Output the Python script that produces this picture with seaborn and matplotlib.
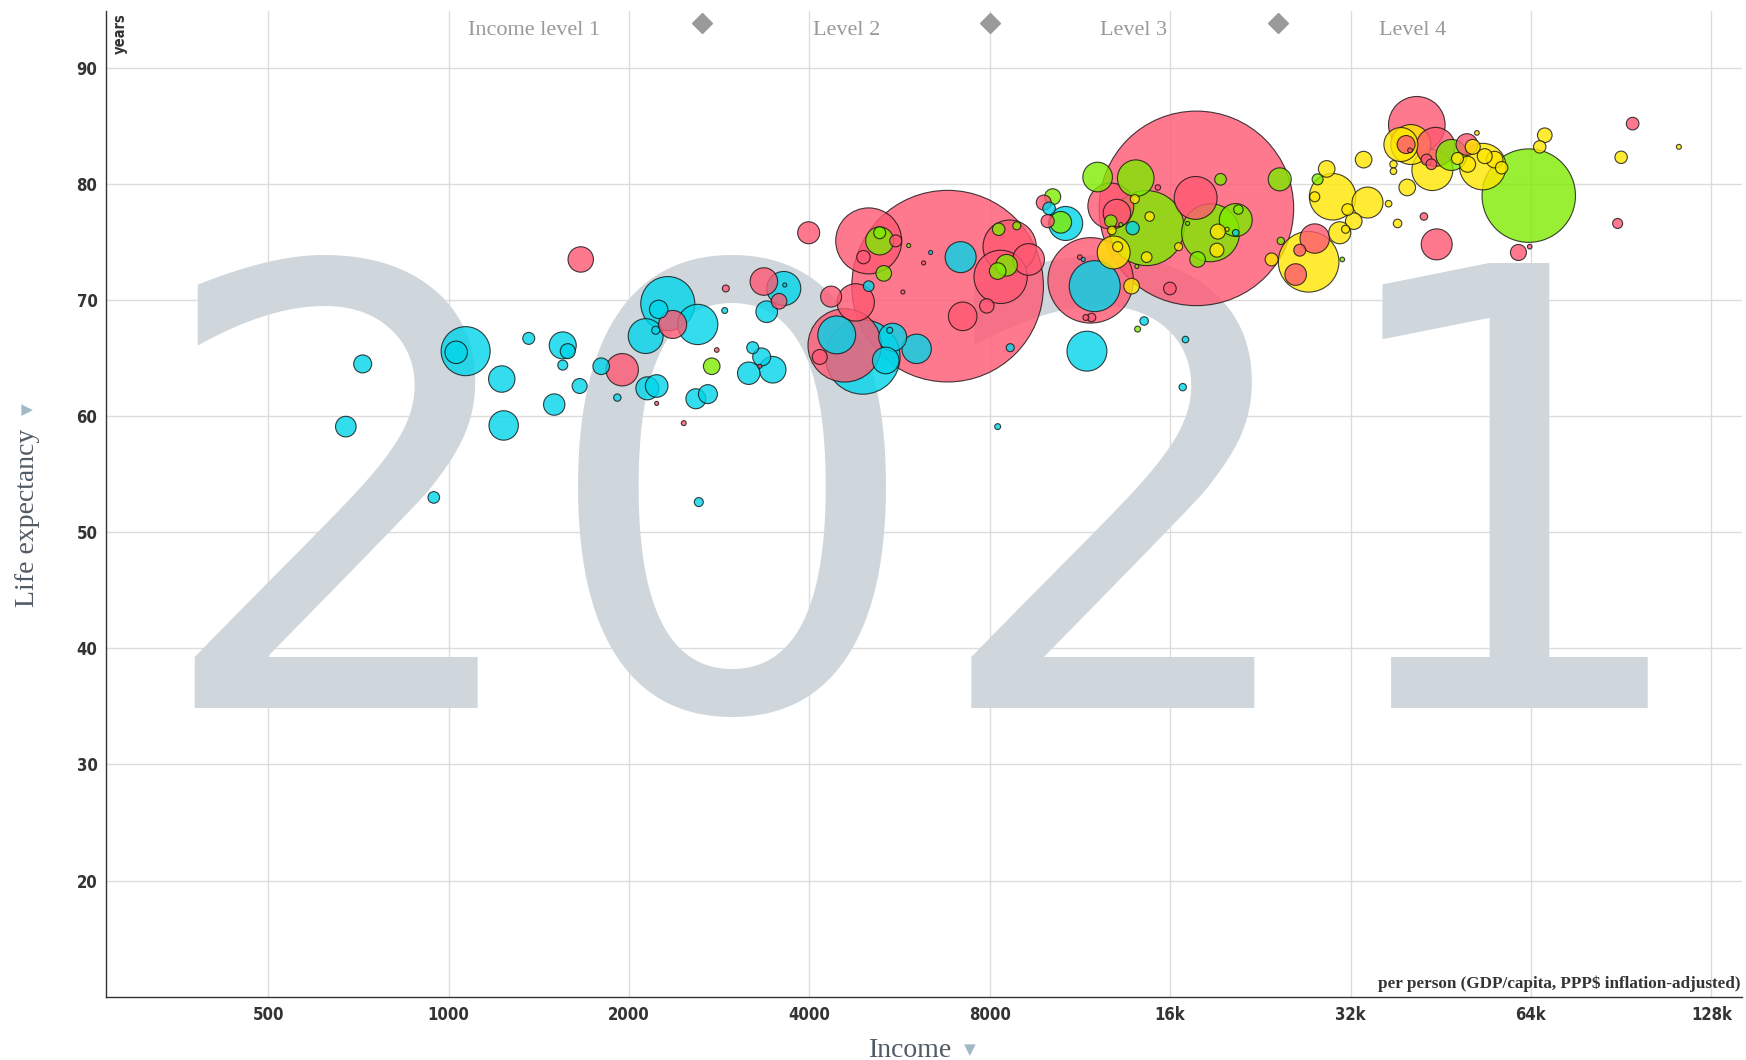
import numpy as np
import pandas as pd
import matplotlib
matplotlib.use("Agg")
import matplotlib.pyplot as plt
from matplotlib.font_manager import FontProperties
import seaborn as sns

# Values: income per person ($), life expectancy (years), population (millions)
africa_income = [719, 674, 945, 1068, 1030, 1227, 1236, 1361, 1551, 1581, 1551, 1655, 1501, 1798, 1913,
                 2322, 2242, 2605, 2133, 2217, 2890, 2147, 2225, 2616, 2587, 2709, 3626, 3640, 3396, 3218,
                 3331, 3169, 3475, 5025, 4444, 4913, 5510, 5448, 5365, 6041, 6375, 7155, 8656, 8248,
                 10050, 10711, 11975, 11623, 13852, 14480, 16971, 16795, 20590, 11460]
africa_life = [64.5, 59.1, 53.0, 65.6, 65.5, 63.2, 59.2, 66.7, 66.1, 65.6, 64.4, 62.6, 61.0, 64.3, 61.6,
               69.7, 69.2, 67.9, 66.9, 67.4, 69.1, 62.4, 62.6, 52.6, 61.5, 61.9, 71.0, 71.3, 69.0, 65.9,
               65.1, 63.7, 64.0, 71.2, 67.0, 65.1, 66.8, 67.4, 64.8, 65.8, 74.1, 73.7, 65.9, 59.1,
               77.9, 76.6, 71.2, 65.6, 76.2, 68.2, 66.6, 62.5, 75.8, 73.5]
africa_pop = [12, 15.7, 5, 89, 18.6, 25.8, 32, 5.3, 27, 8.3, 3.7, 8.3, 16.9, 10.2, 2,
              108, 12.5, 60, 45, 2.4, 1.3, 19.6, 18.9, 3, 14.8, 13.3, 42.8, 0.6, 17.3, 5.3,
              12, 18.6, 26.2, 4.2, 53, 205, 29, 1.3, 26.2, 32, 0.6, 35.5, 2.4, 1.3,
              5.9, 42.8, 96, 59, 6.6, 2.7, 1.6, 2, 1.6, 0.6]

asia_income = [1662, 1949, 2225, 2469, 2366, 2902, 2803, 3359, 3561, 3308, 3990, 5025, 5575, 4925, 6205,
               5730, 4349, 4780, 6805, 4582, 4164, 7211, 7911, 8342, 8637, 9290, 9845, 9995, 11789,
               11830, 11575, 11310, 17700, 12740, 13040, 15262, 17650, 15985, 27890, 26330, 25920,
               41280, 39620, 40220, 44370, 42860, 43660, 50040, 42420, 44560, 61000, 63700, 94600, 89300]
asia_life = [73.5, 64.0, 61.1, 59.4, 67.9, 71.0, 65.7, 71.6, 69.9, 64.3, 75.8, 75.1, 75.1, 73.7, 73.2,
             70.7, 70.3, 69.8, 71.2, 66.1, 65.1, 68.6, 69.5, 72.0, 74.6, 73.5, 78.4, 76.8, 71.7,
             68.5, 68.5, 73.7, 77.9, 78.1, 77.5, 79.7, 78.8, 71.0, 75.3, 74.3, 72.2,
             85.1, 83.4, 82.9, 83.2, 82.1, 81.7, 83.4, 77.2, 74.8, 74.1, 74.6, 85.2, 76.6]
asia_pop = [23.9, 38.8, 0.6, 0.9, 29, 1.8, 0.8, 28, 9, 0.6, 17.9, 161, 5.3, 6.6, 0.6,
            0.6, 16.3, 51.7, 1358, 199, 8.3, 30.2, 7.7, 105, 105, 37, 8.3, 6.4, 270,
            2.7, 1.3, 0.8, 1400, 78, 27.8, 1.1, 68, 5.9, 32, 5.3, 17.3,
            118.5, 12, 0.8, 56, 4.5, 4.2, 17.3, 2.1, 35.5, 9.5, 0.8, 5.9, 3.7]

americas_income = [2749, 5242, 5242, 5324, 5860, 8280, 8877, 8535, 8248, 10190, 10510, 14120, 12110, 14020,
                   12740, 14620, 13240, 18690, 20590, 20800, 19420, 24380, 17780, 17110, 28200, 24480,
                   31000, 47170, 63470, 14080]
americas_life = [64.3, 75.1, 75.8, 72.3, 74.7, 76.1, 76.4, 73.0, 72.5, 78.9, 76.7, 67.5, 80.6, 80.5,
                 76.8, 76.2, 76.5, 75.8, 76.9, 77.8, 80.4, 80.4, 73.5, 76.6, 80.4, 75.1,
                 73.5, 82.5, 79.0, 72.9]
americas_pop = [10.2, 29, 5.3, 9, 0.6, 5.7, 2.4, 17.3, 10.2, 9.5, 17.3, 1.3, 32.4, 49.5,
                5.7, 208, 0.6, 124, 40, 3.3, 5, 19.6, 9, 0.6, 4.5, 2,
                0.8, 35.5, 323, 0.6]

europe_income = [12880, 13080, 13800, 13970, 14790, 14620, 12790, 16530, 19220, 19150, 19920, 23630, 27240,
                 29200, 29870, 27890, 34160, 31650, 32400, 30700, 31400, 33650, 37040, 38340, 39790,
                 37740, 37740, 38830, 40340, 43820, 51180, 48270, 50180, 53180, 53590, 55670, 57190,
                 52000, 67500, 66200, 90500, 113000]
europe_life = [74.1, 74.6, 71.2, 78.7, 77.2, 73.7, 76.0, 74.6, 75.9, 74.3, 76.1, 73.5, 73.3,
               81.3, 78.9, 78.9, 78.4, 77.8, 76.8, 75.8, 76.1, 82.1, 78.3, 76.6, 79.7,
               81.7, 81.1, 83.4, 83.4, 81.2, 83.2, 82.2, 81.7, 81.5, 82.4, 82.1, 81.4,
               84.4, 84.2, 83.2, 82.3, 83.2]
europe_pop = [40, 3.7, 9, 3, 3.3, 4.2, 2.7, 2.4, 8.3, 7.2, 0.6, 6.2, 136,
              10.2, 80, 3.7, 35.5, 5, 10.2, 17.9, 2.4, 10.2, 1.6, 2.7, 10.2,
              2, 1.6, 42.7, 59, 62, 8.3, 5.3, 9.5, 80, 8.3, 10.2, 5.7,
              0.8, 7.9, 5.7, 5.7, 0.9]

region_colors = {"africa": "#00d5e9", "asia": "#ff5872", "americas": "#7feb00", "europe": "#ffe700"}

x_ticks = [500, 1000, 2000, 4000, 8000, 16000, 32000, 64000, 128000]
x_tick_labels = ["500", "1000", "2000", "4000", "8000", "16k", "32k", "64k", "128k"]
y_ticks = [20, 30, 40, 50, 60, 70, 80, 90]

level_marks = [2650, 8000, 24200]
level_names = ["Income level 1", "Level 2", "Level 3", "Level 4"]
level_name_x = [1390, 4610, 13880, 40560]
year = "2021"

parts = []
for name, inc, life, pop in [("africa", africa_income, africa_life, africa_pop),
                             ("asia", asia_income, asia_life, asia_pop),
                             ("americas", americas_income, americas_life, americas_pop),
                             ("europe", europe_income, europe_life, europe_pop)]:
    parts.append(pd.DataFrame({"region": name, "income": inc, "life": life, "population": pop}))
df = pd.concat(parts, ignore_index=True)
# big bubbles behind, small ones in front
df = df.sort_values("population", ascending=False)

sns.set_style("white")
fig = plt.figure(figsize=(17.46, 10.6), dpi=100)
ax = fig.add_axes([0.0606, 0.0598, 0.9371, 0.9298])

max_pop = df["population"].max()
# radius ~2.6 px per sqrt(million people), marker size in pt^2
s_max = (2 * 2.6 * np.sqrt(max_pop) * 72 / 100) ** 2

sns.scatterplot(data=df, x="income", y="life", hue="region", palette=region_colors,
                size="population", sizes=(0, s_max), size_norm=(0, max_pop),
                alpha=0.8, edgecolor="#111111", linewidth=0.8, legend=False, ax=ax, zorder=3)

ax.set_xscale("log", base=2)
ax.set_xlim(268, 144000)
ax.set_ylim(10, 94.9)
ax.set_xticks(x_ticks)
ax.set_xticklabels(x_tick_labels)
ax.set_yticks(y_ticks)
ax.minorticks_off()
ax.set_xlabel("")
ax.set_ylabel("")

ax.set_axisbelow(True)
ax.grid(True, color="#dcdcdc", linewidth=1.0)
for side in ["top", "right"]:
    ax.spines[side].set_visible(False)
for side in ["left", "bottom"]:
    ax.spines[side].set_color("#333333")
    ax.spines[side].set_linewidth(1.0)

tick_font = FontProperties(family="DejaVu Sans", weight="bold", stretch="condensed", size=12)
ax.tick_params(axis="both", length=0, colors="#333333")
ax.tick_params(axis="x", pad=7)
ax.tick_params(axis="y", pad=6)
for lab in ax.get_xticklabels() + ax.get_yticklabels():
    lab.set_fontproperties(tick_font)

# big year in the background
ax.text(926.5 / 1746, 0.332, year, transform=fig.transFigure, ha="center", va="baseline",
        fontsize=440, color="#cfd6dc", family="DejaVu Sans", zorder=1)

# income level markers along the top
ax.plot(level_marks, [0.9877] * len(level_marks), "D", color="#9a9a9a", ms=10,
        transform=ax.get_xaxis_transform(), clip_on=False, zorder=4)
for xv, name in zip(level_name_x, level_names):
    ax.text(xv, 0.9806, name, transform=ax.get_xaxis_transform(), ha="center", va="center",
            family="Liberation Serif", fontsize=16, color="#9a9a9a")

ax.text(0.0089, 0.998, "years", transform=ax.transAxes, rotation=90, ha="center", va="top",
        fontproperties=FontProperties(family="DejaVu Sans", weight="bold", stretch="condensed", size=10.5),
        color="#333333")

fig.text(1740 / 1746, 1 - 988 / 1060, "per person (GDP/capita, PPP$ inflation-adjusted)",
         ha="right", va="baseline", family="Liberation Serif", weight="bold", fontsize=12.3, color="#333333")

# axis titles with the little triangles
fig.text(910.5 / 1746, 3 / 1060, "Income", ha="center", va="baseline",
         family="Liberation Serif", fontsize=20, color="#4f5b66")
fig.text(970 / 1746, 1 - 1049.5 / 1060, "\u25bc", ha="center", va="center",
         family="DejaVu Sans", fontsize=11, color="#a0b9c4")
fig.text(28 / 1746, 1 - 517.9 / 1060, "Life expectancy", rotation=90, ha="center", va="center",
         family="Liberation Serif", fontsize=20, color="#4f5b66")
fig.text(28 / 1746, 1 - 408.7 / 1060, "\u25bc", rotation=90, ha="center", va="center",
         family="DejaVu Sans", fontsize=11, color="#a0b9c4")

fig.savefig("out.png", dpi=100)
